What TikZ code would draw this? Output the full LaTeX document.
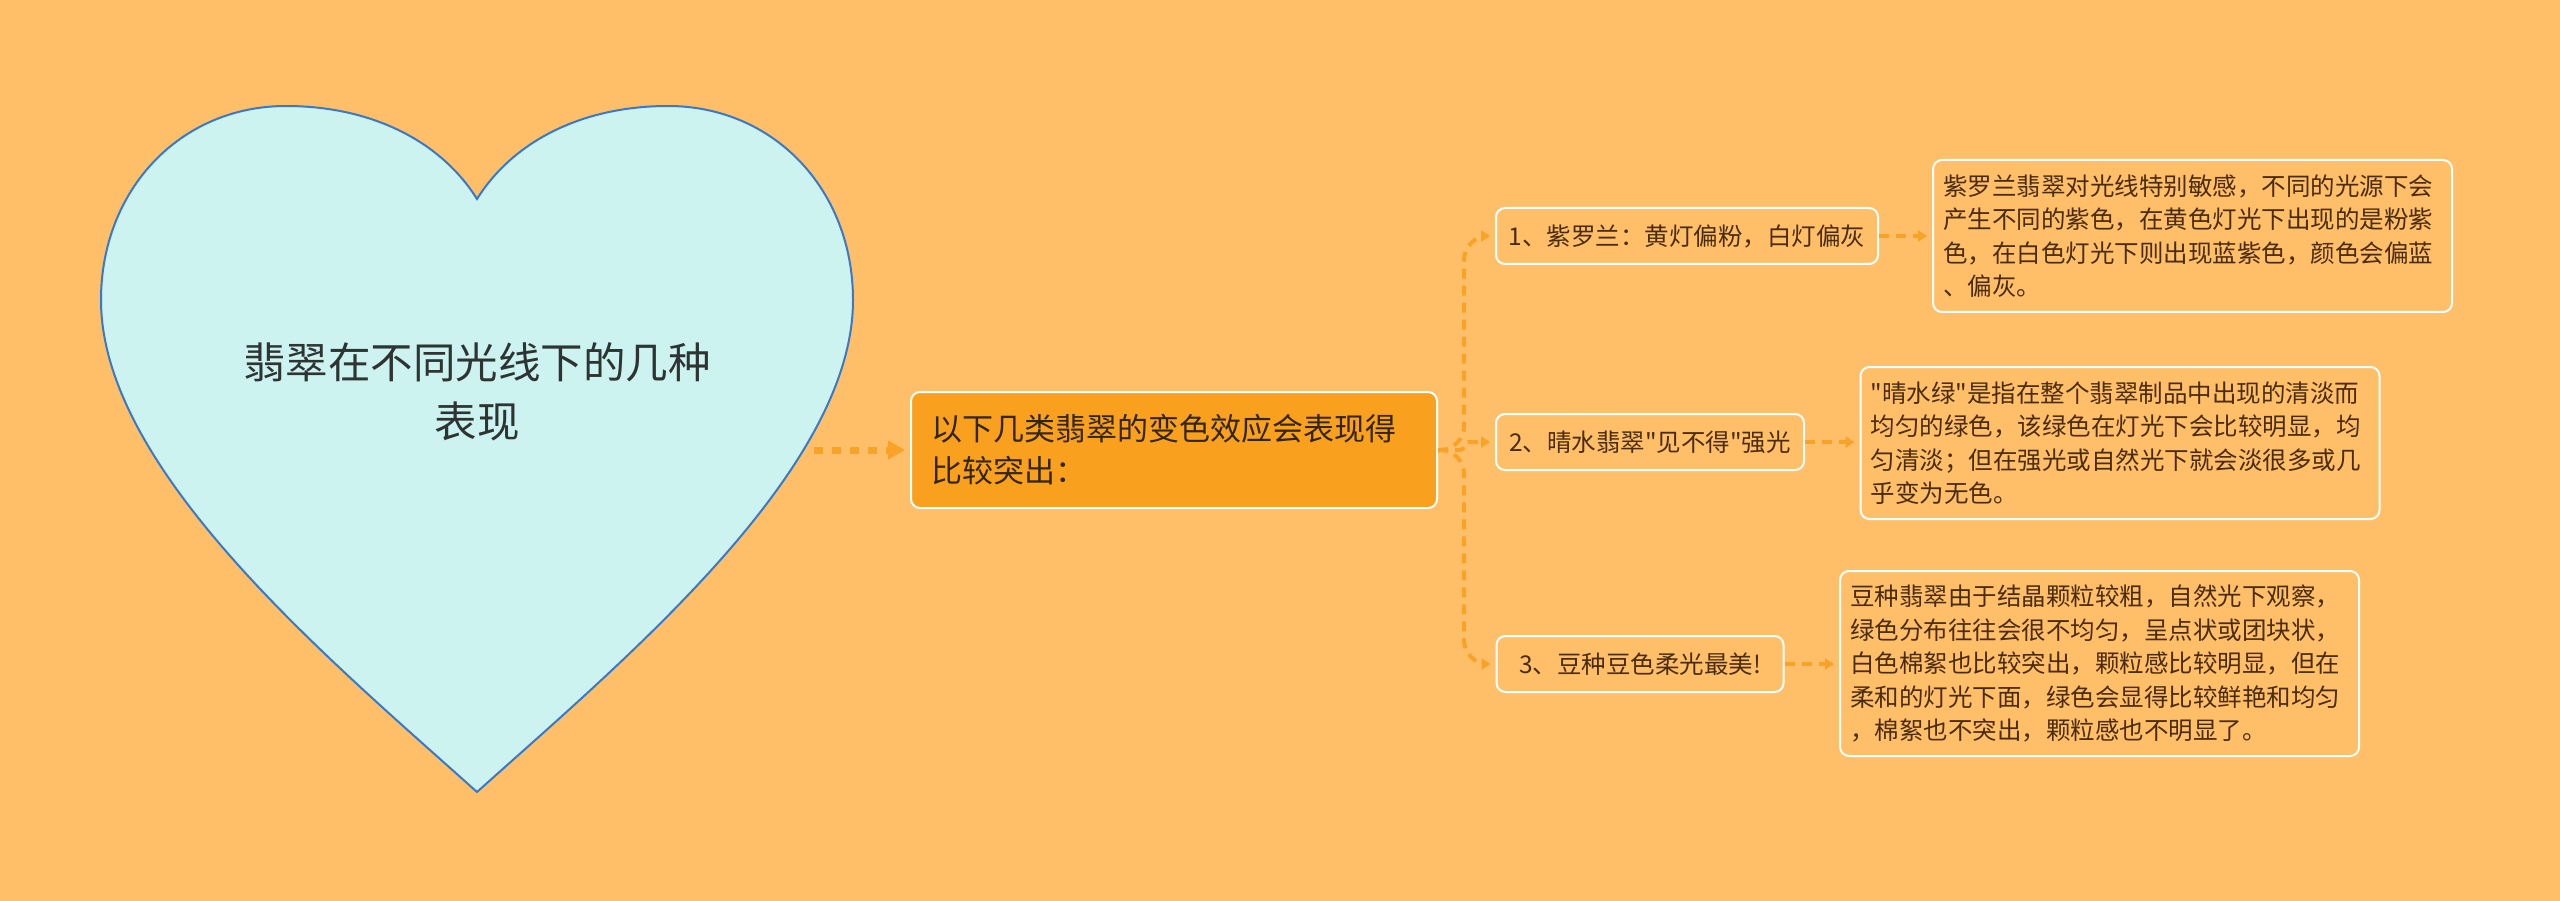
\documentclass[tikz,border=0pt]{standalone}
\usepackage{fontspec}
\newfontfamily\cjk{Noto Sans CJK SC}
\usetikzlibrary{arrows.meta}
\definecolor{bg}{HTML}{FFBF69}
\definecolor{heartfill}{HTML}{CCF3EF}
\definecolor{heartline}{HTML}{3A78C8}
\definecolor{mainfill}{HTML}{F9A11E}
\definecolor{conn}{HTML}{F8A328}
\definecolor{txt}{HTML}{4A2C0C}
\definecolor{maintxt}{HTML}{33260F}
\definecolor{hearttxt}{HTML}{2E3333}
\tikzset{
  boxnode/.style={draw=white, line width=2pt, rounded corners=9pt, fill=bg, text=txt,
    font={\cjk\fontsize{24.5}{33.5}\selectfont}},
  childnode/.style={boxnode, inner xsep=0pt, inner ysep=0pt, minimum height=56pt},
  leafnode/.style={boxnode, align=left, text width=499pt, inner xsep=10pt, inner ysep=0pt},
  connline/.style={draw=conn, line width=4pt, dash pattern=on 10pt off 7pt,
    -{Triangle[length=9pt,width=11pt]}, shorten >=5pt},
  rootline/.style={draw=conn, line width=7pt, dash pattern=on 9pt off 9pt,
    -{Triangle[length=17pt,width=18pt]}, shorten >=5pt},
}
\begin{document}
\begin{tikzpicture}[x=1pt,y=-1pt]
\fill[bg] (0,0) rectangle (2560,901);
\useasboundingbox (0,0) rectangle (2560,901);
% heart
\filldraw[fill=heartfill, draw=heartline, line width=2pt]
  (477,199) .. controls (440,140) and (370,106) .. (286,106)
  .. controls (180,106) and (101,190) .. (101,300)
  .. controls (101,470) and (330,660) .. (477,792)
  .. controls (624,660) and (853,470) .. (853,300)
  .. controls (853,190) and (774,106) .. (668,106)
  .. controls (584,106) and (514,140) .. (477,199) -- cycle;
\node[text=hearttxt, align=center, font={\cjk\fontsize{42.5}{59}\selectfont}] (root) at (477,392)
  {翡翠在不同光线下的几种\\表现};
\coordinate (heartR) at (814,450);
% main box
\node[boxnode, fill=mainfill, text=maintxt, align=left, text width=486pt, inner xsep=20pt,
  minimum height=116pt, font={\cjk\fontsize{31}{42}\selectfont}] (main) at (1174,450)
  {以下几类翡翠的变色效应会表现得\\比较突出：};
% children
\node[childnode, minimum width=382pt] (c1) at (1687,236) {1、紫罗兰：黄灯偏粉，白灯偏灰};
\node[childnode, minimum width=308pt] (c2) at (1650,442) {2、晴水翡翠"见不得"强光};
\node[childnode, minimum width=287pt] (c3) at (1640,664) {3、豆种豆色柔光最美!};
% leaves
\node[leafnode, minimum height=152pt] (l1) at (2192.5,236)
  {紫罗兰翡翠对光线特别敏感，不同的光源下会\\产生不同的紫色，在黄色灯光下出现的是粉紫\\色，在白色灯光下则出现蓝紫色，颜色会偏蓝\\、偏灰。};
\node[leafnode, minimum height=152pt] (l2) at (2120,443)
  {"晴水绿"是指在整个翡翠制品中出现的清淡而\\均匀的绿色，该绿色在灯光下会比较明显，均\\匀清淡；但在强光或自然光下就会淡很多或几\\乎变为无色。};
\node[leafnode, minimum height=185pt] (l3) at (2099.5,663.5)
  {豆种翡翠由于结晶颗粒较粗，自然光下观察，\\绿色分布往往会很不均匀，呈点状或团块状，\\白色棉絮也比较突出，颗粒感比较明显，但在\\柔和的灯光下面，绿色会显得比较鲜艳和均匀\\，棉絮也不突出，颗粒感也不明显了。};
% connectors
\draw[rootline] (heartR) -- (main.west);
\draw[connline, rounded corners=24pt] (main.east) -- ++(26,0) |- (c1.west);
\draw[connline, rounded corners=4pt] (main.east) -- ++(26,0) |- (c2.west);
\draw[connline, rounded corners=24pt] (main.east) -- ++(26,0) |- (c3.west);
\draw[connline] (c1.east) -- (c1.east -| l1.west);
\draw[connline] (c2.east) -- (c2.east -| l2.west);
\draw[connline] (c3.east) -- (c3.east -| l3.west);
\end{tikzpicture}
\end{document}
